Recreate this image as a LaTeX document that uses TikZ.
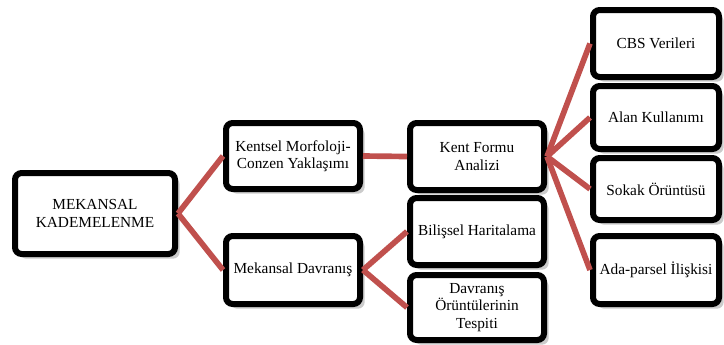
\documentclass[tikz,border=0pt]{standalone}
\usepackage{fontspec}
\setmainfont{Liberation Serif}
\usepackage{tikz}
\usetikzlibrary{shadows}
\definecolor{linkred}{RGB}{192, 80, 77}
\definecolor{shadegray}{RGB}{190, 190, 190}

\begin{document}
\begin{tikzpicture}[x=0.75pt, y=-0.75pt,
        box/.style={rectangle, rounded corners=5pt, draw=black, line width=4.5pt, fill=white, minimum width=100.5pt, minimum height=50pt, inner sep=0pt, align=center, font=\fontsize{11.5}{13}\selectfont, drop shadow={shadow xshift=3.5pt, shadow yshift=-3.5pt, fill=shadegray, opacity=0.8}},
        leaf/.style={box, minimum width=94.5pt},
        link/.style={line width=4.25pt, draw=linkred}
    ]
        \useasboundingbox (0,0) rectangle (724,344);
        \node[box, minimum width=120pt, minimum height=60.75pt] (root) at (95,213.5) {MEKANSAL\\KADEMELENME};
        \node[box, minimum height=49.5pt] (morf) at (293,156) {Kentsel Morfoloji-\\Conzen Yaklaşımı};
        \node[box, minimum height=51pt] (davr) at (293,270) {Mekansal Davranış};
        \node[box, minimum height=50.25pt] (form) at (477,156.5) {Kent Formu\\Analizi};
        \node[box, minimum height=50.25pt] (bilis) at (477,231.5) {Bilişsel Haritalama};
        \node[box, minimum height=48.75pt] (orunt) at (477,307.5) {Davranış\\Örüntülerinin\\Tespiti};
        \node[leaf, minimum height=50.25pt] (cbs) at (656,43.5) {CBS Verileri};
        \node[leaf, minimum height=47.25pt] (alan) at (656,117.5) {Alan Kullanımı};
        \node[leaf, minimum height=46.5pt] (sokak) at (656,189) {Sokak Örüntüsü};
        \node[leaf, minimum height=51pt] (ada) at (656,270) {Ada-parsel İlişkisi};
        \draw[link] (root.east) -- (morf.west);
        \draw[link] (root.east) -- (davr.west);
        \draw[link] (morf.east) -- (form.west);
        \draw[link] (davr.east) -- (bilis.west);
        \draw[link] (davr.east) -- (orunt.west);
        \draw[link] (form.east) -- (cbs.west);
        \draw[link] (form.east) -- (alan.west);
        \draw[link] (form.east) -- (sokak.west);
        \draw[link] (form.east) -- (ada.west);
    \end{tikzpicture}
\end{document}
